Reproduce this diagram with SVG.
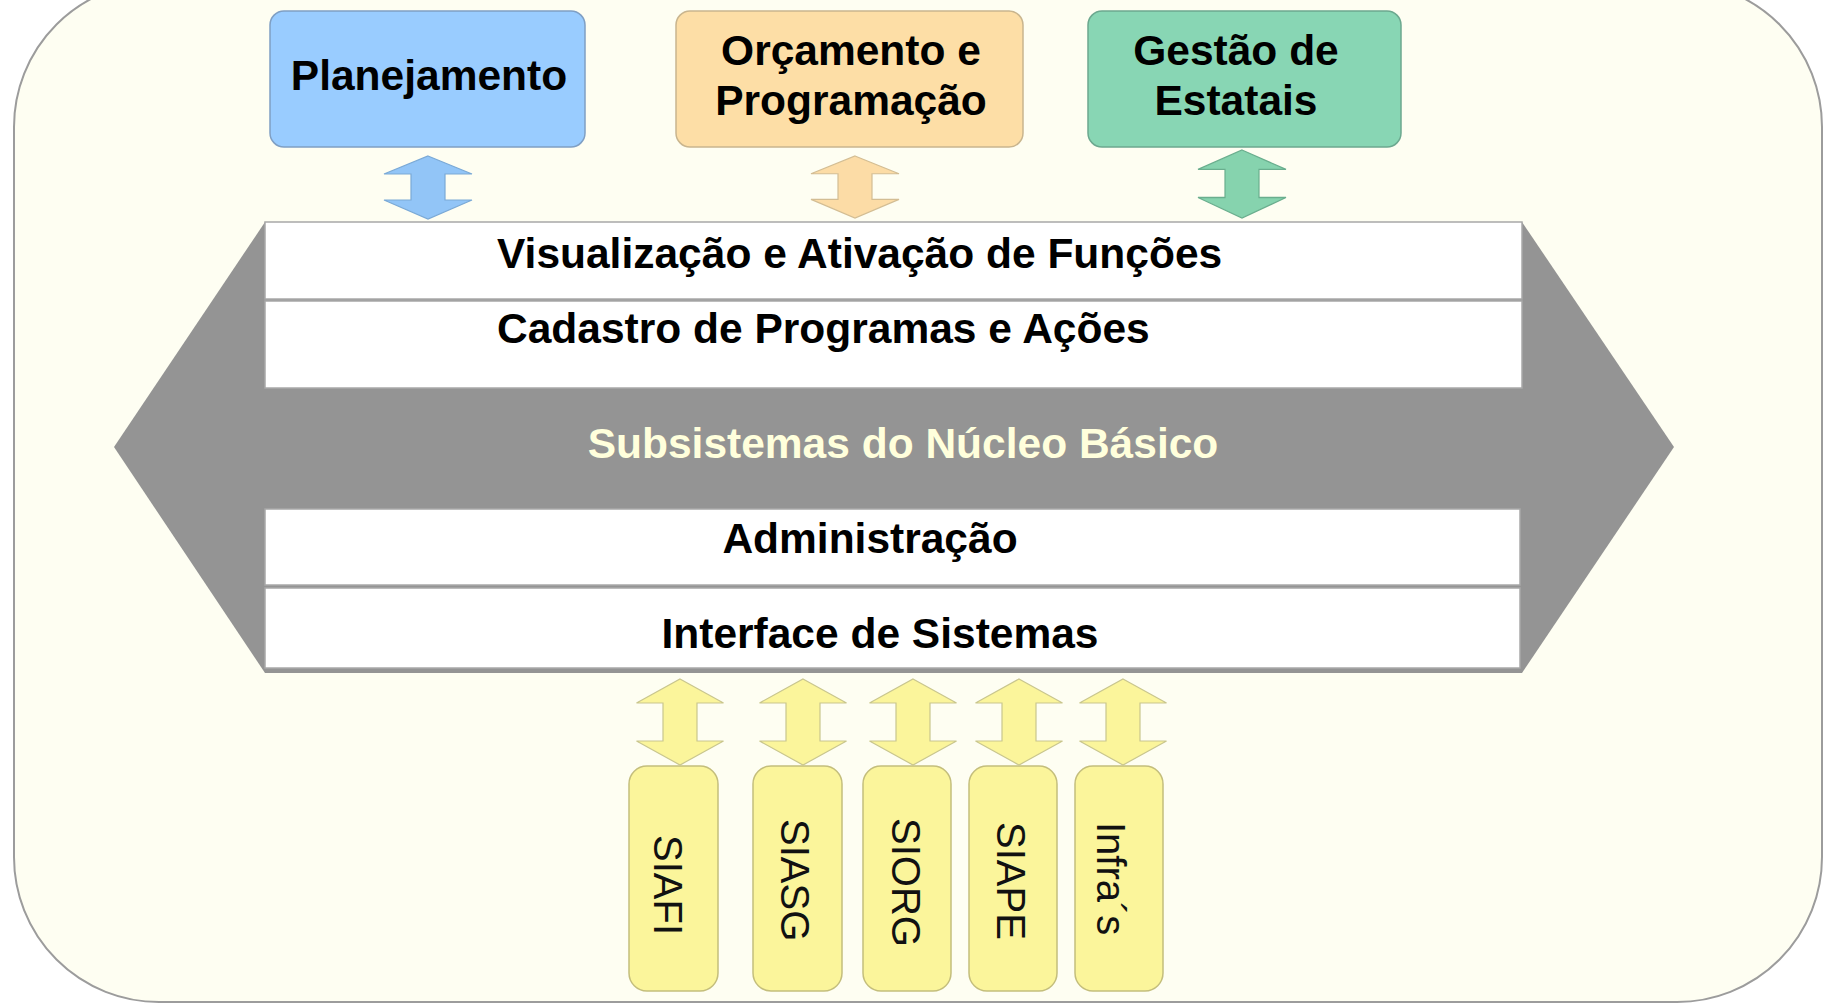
<svg xmlns="http://www.w3.org/2000/svg" xmlns:xlink="http://www.w3.org/1999/xlink" width="1825" height="1004" viewBox="0 0 1825 1004">
  <style>
    .lbl { font-family: "Liberation Sans", Arial, sans-serif; font-weight: bold; font-size: 42.5px; fill: #000; }
    .ctr { text-anchor: middle; }
    .sys { font-family: "Liberation Sans", Arial, sans-serif; font-size: 40px; fill: #111; }
    .row { fill: #ffffff; stroke: #a8a8a8; stroke-width: 1.5; }
    .ybox { fill: #fbf59b; stroke: #c4be7c; stroke-width: 1.5; }
    .yarr { fill: #fbf59b; stroke: #c9c68e; stroke-width: 1.2; }
  </style>
  <defs>
    <path id="arrSmall" d="M0,0 L44,18 L17,18 L17,44 L44,44 L0,63 L-44,44 L-17,44 L-17,18 L-44,18 Z"/>
    <path id="arrYellow" d="M0,0 L43.5,24 L17,24 L17,62 L43.5,62 L0,86 L-43.5,62 L-17,62 L-17,24 L-43.5,24 Z"/>
  </defs>

  <rect x="0" y="0" width="1825" height="1004" fill="#ffffff"/>
  <rect id="frame" x="14" y="-18" width="1808" height="1020" rx="145" ry="145" fill="#fefef2" stroke="#9c9c9c" stroke-width="2"/>

  <g id="nucleo">
    <polygon points="114,447 265,222 1522,222 1674,447 1522,673 265,673" fill="#949494"/>
    <text class="lbl ctr" x="903" y="458" style="fill:#ffffdc">Subsistemas do Núcleo Básico</text>
  </g>

  <g id="visualizacao">
    <rect class="row" x="265" y="222" width="1257" height="77"/>
    <text class="lbl" x="497" y="268">Visualização e Ativação de Funções</text>
  </g>
  <g id="cadastro">
    <rect class="row" x="265" y="301" width="1257" height="87"/>
    <text class="lbl" x="497" y="343">Cadastro de Programas e Ações</text>
  </g>
  <g id="administracao">
    <rect class="row" x="265" y="509" width="1255" height="76"/>
    <text class="lbl ctr" x="870" y="553">Administração</text>
  </g>
  <g id="interface">
    <rect class="row" x="265" y="588" width="1255" height="80"/>
    <text class="lbl ctr" x="880" y="648">Interface de Sistemas</text>
  </g>

  <g id="planejamento">
    <rect x="270" y="11" width="315" height="136" rx="14" fill="#99ccff" stroke="#7f9fc4" stroke-width="1.5"/>
    <text class="lbl ctr" x="429" y="90">Planejamento</text>
  </g>
  <g id="orcamento">
    <rect x="676" y="11" width="347" height="136" rx="14" fill="#fddea6" stroke="#c9b58e" stroke-width="1.5"/>
    <text class="lbl ctr" x="851" y="65">Orçamento e</text>
    <text class="lbl ctr" x="851" y="115">Programação</text>
  </g>
  <g id="gestao">
    <rect x="1088" y="11" width="313" height="136" rx="14" fill="#88d6b4" stroke="#6ca88f" stroke-width="1.5"/>
    <text class="lbl ctr" x="1236" y="65">Gestão de</text>
    <text class="lbl ctr" x="1236" y="115">Estatais</text>
  </g>

  <g id="siafi">
    <rect class="ybox" x="629" y="766" width="89" height="225" rx="18"/>
    <text class="sys" transform="translate(654,835) rotate(90)">SIAFI</text>
  </g>
  <g id="siasg">
    <rect class="ybox" x="753" y="766" width="89" height="225" rx="18"/>
    <text class="sys" transform="translate(781,819) rotate(90)">SIASG</text>
  </g>
  <g id="siorg">
    <rect class="ybox" x="863" y="766" width="88" height="225" rx="18"/>
    <text class="sys" transform="translate(892,818) rotate(90)">SIORG</text>
  </g>
  <g id="siape">
    <rect class="ybox" x="969" y="766" width="88" height="225" rx="18"/>
    <text class="sys" transform="translate(997,822) rotate(90)">SIAPE</text>
  </g>
  <g id="infras">
    <rect class="ybox" x="1075" y="766" width="88" height="225" rx="18"/>
    <text class="sys" transform="translate(1097,822) rotate(90)">Infra´s</text>
  </g>

  <g id="connectors">
    <use xlink:href="#arrSmall" href="#arrSmall" transform="translate(428,156)" fill="#92c5f7" stroke="#7aa9d6" stroke-width="1.2"/>
    <use xlink:href="#arrSmall" href="#arrSmall" transform="translate(855,156) scale(1,0.985)" fill="#fcdca6" stroke="#d3bd93" stroke-width="1.2"/>
    <use xlink:href="#arrSmall" href="#arrSmall" transform="translate(1242,150) scale(1,1.08)" fill="#86d3ae" stroke="#6aae8e" stroke-width="1.2"/>
    <use class="yarr" xlink:href="#arrYellow" href="#arrYellow" x="680" y="679"/>
    <use class="yarr" xlink:href="#arrYellow" href="#arrYellow" x="803" y="679"/>
    <use class="yarr" xlink:href="#arrYellow" href="#arrYellow" x="913" y="679"/>
    <use class="yarr" xlink:href="#arrYellow" href="#arrYellow" x="1019" y="679"/>
    <use class="yarr" xlink:href="#arrYellow" href="#arrYellow" x="1123" y="679"/>
  </g>
</svg>
